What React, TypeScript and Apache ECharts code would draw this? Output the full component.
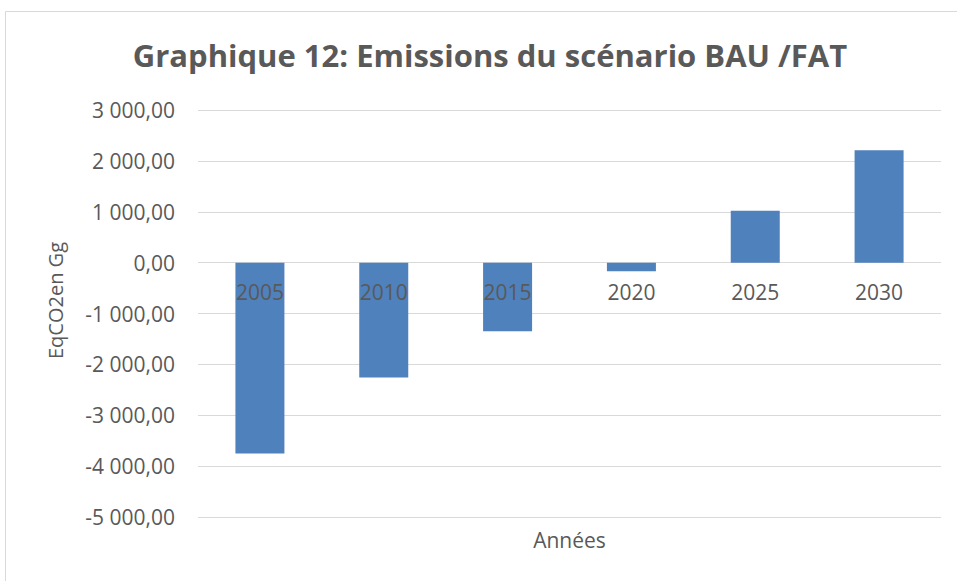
import React, { useEffect, useRef } from "react";
import * as echarts from "echarts";

const TITLE = "Graphique 12: Emissions du scénario BAU /FAT";
const categories = ["2005", "2010", "2015", "2020", "2025", "2030"];
const emissions = [-3750, -2260, -1350, -170, 1020, 2210];
const yAxisName = "EqCO2en Gg";
const xAxisName = "Années";

const FONT = "'Open Sans', 'Noto Sans', sans-serif";
const GRAY = "#595959";

function fmt(v: number): string {
  const neg = v < 0;
  const s = Math.abs(v).toFixed(2);
  const [ip, dp] = s.split(".");
  const withSp = ip.replace(/\B(?=(\d{3})+(?!\d))/g, " ");
  return (neg ? "-" : "") + withSp + "," + dp;
}

export default function App() {
  const ref = useRef<HTMLDivElement>(null);
  useEffect(() => {
    document.body.style.margin = "0";
    if (!ref.current) return;
    const chart = echarts.init(ref.current, undefined, { renderer: "svg" });
    chart.setOption({
      animation: false,
      backgroundColor: "#ffffff",
      textStyle: { fontFamily: FONT },
      graphic: [
        {
          type: "rect",
          shape: { x: 5.5, y: 11.5, width: 1000, height: 1000 },
          style: { fill: "none", stroke: "#D9D9D9", lineWidth: 1 },
          silent: true,
          z: -1,
        },
        {
          type: "text",
          x: 490,
          y: 55,
          style: {
            text: TITLE,
            fontFamily: FONT,
            fontSize: 31,
            fontWeight: "bold",
            fill: GRAY,
            textAlign: "center",
            textVerticalAlign: "middle",
          },
        },
      ],
      grid: {
        left: 198,
        right: 16,
        top: 110,
        bottom: 64,
        containLabel: false,
        outerBoundsMode: "none",
      },
      xAxis: {
        type: "category",
        data: categories,
        axisLine: { show: false },
        axisTick: { show: false },
        axisLabel: { color: GRAY, fontSize: 21, margin: -236, fontFamily: FONT },
        name: xAxisName,
        nameLocation: "middle",
        nameGap: 12,
        nameTextStyle: { color: GRAY, fontSize: 21, fontFamily: FONT },
        z: 10,
      },
      yAxis: {
        type: "value",
        min: -5000,
        max: 3000,
        interval: 1000,
        axisLine: { show: false },
        axisTick: { show: false },
        splitLine: { lineStyle: { color: "#D9D9D9", width: 1 } },
        axisLabel: {
          color: GRAY,
          fontSize: 21,
          margin: 23,
          fontFamily: FONT,
          formatter: (v: number) => fmt(v),
        },
        name: yAxisName,
        nameLocation: "middle",
        nameRotate: 90,
        nameGap: 133,
        nameTextStyle: {
          color: GRAY,
          fontSize: 20,
          fontFamily: FONT,
          padding: [0, 0, 0, 26],
        },
      },
      series: [
        {
          type: "bar",
          data: emissions,
          barWidth: 49,
          itemStyle: { color: "#4F81BD" },
          z: 2,
        },
      ],
    });
    return () => chart.dispose();
  }, []);
  return <div ref={ref} style={{ width: 957, height: 581 }} />;
}
